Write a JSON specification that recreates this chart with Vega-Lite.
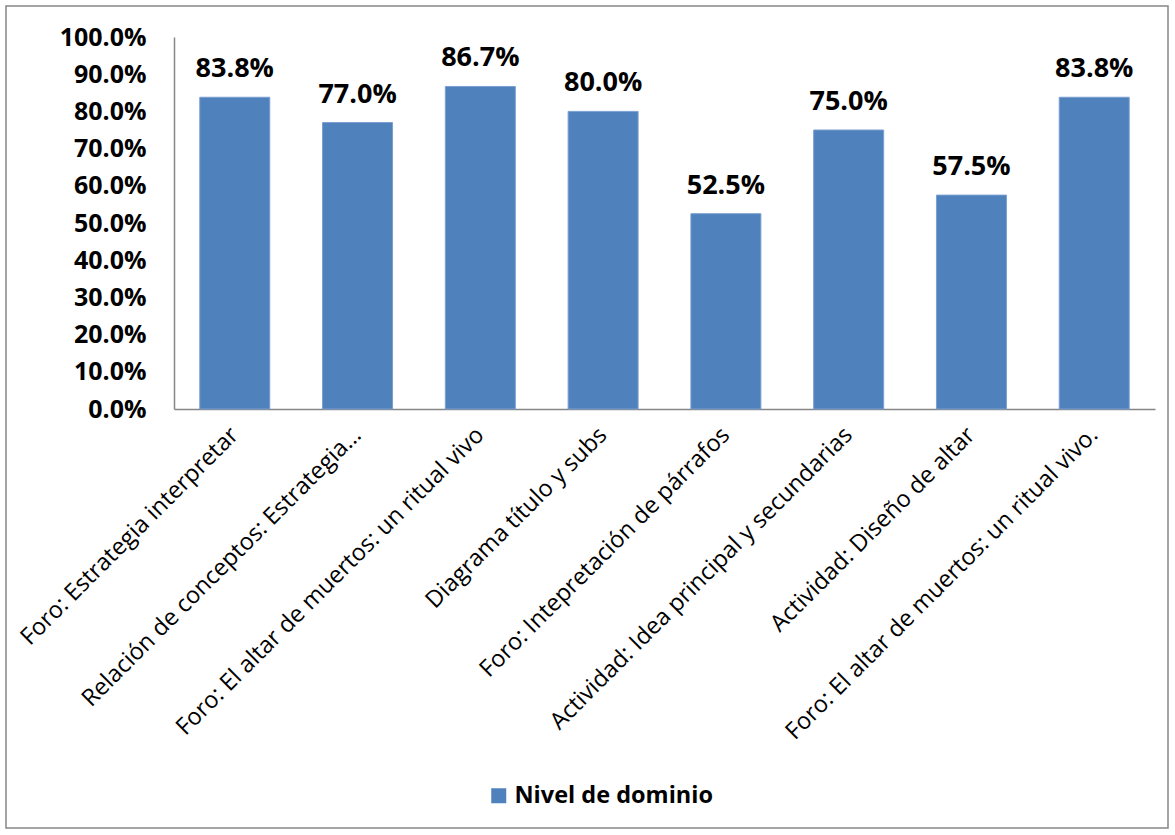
{
  "$schema": "https://vega.github.io/schema/vega-lite/v6.json",
  "width": 1162,
  "height": 822,
  "autosize": "none",
  "padding": {"left": 6, "top": 6, "right": 7, "bottom": 7},
  "background": "white",
  "config": {
    "view": {"stroke": "#868686", "strokeWidth": 1.5},
    "font": "Open Sans"
  },
  "data": {
    "values": [
      {"actividad": "Foro: Estrategia interpretar", "valor": 0.838, "serie": "Nivel de dominio"},
      {"actividad": "Relación de conceptos: Estrategia…", "valor": 0.77, "serie": "Nivel de dominio"},
      {"actividad": "Foro: El altar de muertos: un ritual vivo", "valor": 0.867, "serie": "Nivel de dominio"},
      {"actividad": "Diagrama título y subs", "valor": 0.80, "serie": "Nivel de dominio"},
      {"actividad": "Foro: Intepretación de párrafos", "valor": 0.525, "serie": "Nivel de dominio"},
      {"actividad": "Actividad: Idea principal y secundarias", "valor": 0.75, "serie": "Nivel de dominio"},
      {"actividad": "Actividad: Diseño de altar", "valor": 0.575, "serie": "Nivel de dominio"},
      {"actividad": "Foro: El altar de muertos: un ritual vivo.", "valor": 0.838, "serie": "Nivel de dominio"}
    ]
  },
  "encoding": {
    "x": {
      "field": "actividad",
      "type": "nominal",
      "sort": null,
      "scale": {"range": [168, 1149], "paddingInner": 0.43, "paddingOuter": 0.21},
      "axis": {
        "title": null,
        "orient": "bottom",
        "offset": -419,
        "labelAngle": -45,
        "labelAlign": "right",
        "labelBaseline": "middle",
        "labelFont": "Open Sans",
        "labelFontSize": 23.5,
        "labelColor": "black",
        "labelPadding": 22,
        "labelLimit": 0,
        "ticks": false,
        "domainColor": "#868686",
        "domainWidth": 1.5
      }
    },
    "y": {
      "field": "valor",
      "type": "quantitative",
      "scale": {"domain": [0, 1], "range": [403, 31]},
      "axis": {
        "title": null,
        "offset": -168,
        "values": [0, 0.1, 0.2, 0.3, 0.4, 0.5, 0.6, 0.7, 0.8, 0.9, 1.0],
        "format": ".1%",
        "labelFont": "Open Sans",
        "labelFontSize": 25,
        "labelFontWeight": "bold",
        "labelColor": "black",
        "labelPadding": 28,
        "ticks": false,
        "grid": false,
        "domainColor": "#868686",
        "domainWidth": 1.5
      }
    }
  },
  "layer": [
    {
      "mark": {"type": "bar", "stroke": "#7A9FD0", "strokeWidth": 1},
      "encoding": {
        "color": {
          "field": "serie",
          "type": "nominal",
          "scale": {"range": ["#4F81BD"]},
          "legend": {
            "orient": "none",
            "legendX": 481,
            "legendY": 778,
            "title": null,
            "symbolType": "square",
            "symbolSize": 225,
            "symbolStrokeWidth": 0,
            "symbolOpacity": 1,
            "labelFont": "Open Sans",
            "labelFontSize": 23.5,
            "labelFontWeight": "bold",
            "labelColor": "black",
            "labelOffset": 4,
            "labelLimit": 0
          }
        }
      }
    },
    {
      "mark": {"type": "text", "baseline": "alphabetic", "dy": -20, "fontSize": 27, "fontWeight": "bold", "color": "black", "font": "Open Sans"},
      "encoding": {
        "text": {"field": "valor", "type": "quantitative", "format": ".1%"}
      }
    }
  ]
}
